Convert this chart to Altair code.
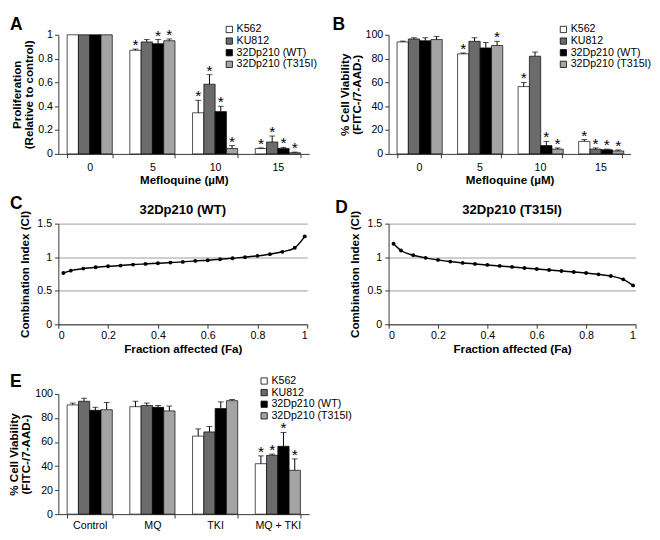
import altair as alt
import pandas as pd

LINES = ["K562", "KU812", "32Dp210 (WT)", "32Dp210 (T315I)"]
COLORS = ["#ffffff", "#6b6b6b", "#000000", "#a4a4a4"]

# ---- Panel A: proliferation relative to control ----
A_DOSES = ["0", "5", "10", "15"]
A_K562 = [1.0, 0.87, 0.345, 0.045]
A_K562_ERR = [0.0, 0.01, 0.105, 0.005]
A_KU812 = [1.0, 0.94, 0.585, 0.10]
A_KU812_ERR = [0.0, 0.02, 0.08, 0.05]
A_WT = [1.0, 0.925, 0.355, 0.045]
A_WT_ERR = [0.0, 0.035, 0.045, 0.01]
A_T315I = [1.0, 0.95, 0.045, 0.01]
A_T315I_ERR = [0.0, 0.015, 0.025, 0.005]
A_STARS = [[0, 1, 1, 1], [0, 0, 1, 1], [0, 1, 1, 1], [0, 1, 1, 1]]

# ---- Panel B: % cell viability ----
B_DOSES = ["0", "5", "10", "15"]
B_K562 = [94, 84, 56.5, 10.5]
B_K562_ERR = [0.7, 0.7, 3.5, 1.5]
B_KU812 = [96.5, 94.5, 82, 4]
B_KU812_ERR = [1, 3, 3.5, 1]
B_WT = [95, 89, 7, 3.5]
B_WT_ERR = [2.5, 4.5, 3.5, 0.5]
B_T315I = [96, 91, 4, 2.5]
B_T315I_ERR = [2.5, 3.5, 1, 0.8]
B_STARS = [[0, 1, 1, 1], [0, 0, 0, 1], [0, 0, 1, 1], [0, 1, 1, 1]]

# ---- Panels C / D: combination index ----
FA = [0.02, 0.05, 0.10, 0.15, 0.20, 0.25, 0.30, 0.35, 0.40, 0.45, 0.50,
      0.55, 0.60, 0.65, 0.70, 0.75, 0.80, 0.85, 0.90, 0.95, 0.99]
CI_WT = [0.765, 0.80, 0.83, 0.85, 0.865, 0.875, 0.89, 0.90, 0.91, 0.92, 0.93,
         0.945, 0.955, 0.97, 0.985, 1.00, 1.02, 1.045, 1.08, 1.14, 1.31]
CI_T315I = [1.20, 1.10, 1.03, 0.99, 0.96, 0.935, 0.915, 0.90, 0.885, 0.87, 0.855,
            0.84, 0.825, 0.81, 0.795, 0.78, 0.765, 0.745, 0.72, 0.67, 0.58]

# ---- Panel E: % cell viability with treatments ----
E_CATS = ["Control", "MQ", "TKI", "MQ + TKI"]
E_K562 = [91, 89.5, 65, 42]
E_K562_ERR = [1.5, 4.5, 6, 6.5]
E_KU812 = [94, 90.5, 68.5, 49]
E_KU812_ERR = [2.5, 2, 4.5, 1]
E_WT = [86.5, 89, 88, 56.5]
E_WT_ERR = [2.5, 1.5, 5.5, 11.5]
E_T315I = [87, 86, 94.5, 36.5]
E_T315I_ERR = [6, 4, 1, 9.5]
E_STARS = [[0, 0, 0, 1], [0, 0, 0, 1], [0, 0, 0, 1], [0, 0, 0, 1]]

FONT = "Liberation Sans"
AX = "#333333"


def bar_df(cats, means, errs, stars):
    rows = []
    for line, m, e, s in zip(LINES, means, errs, stars):
        for c, mv, ev, sv in zip(cats, m, e, s):
            rows.append({"cat": c, "line": line, "val": mv, "err": ev,
                         "top": mv + ev, "star": sv})
    return pd.DataFrame(rows)


def text_layer(txt, lx, ly, size, align="left", baseline="top"):
    return alt.Chart(pd.DataFrame({"t": [txt]})).mark_text(
        fontSize=size, fontWeight="bold", align=align, baseline=baseline,
        font=FONT
    ).encode(text="t:N", x=alt.value(lx), y=alt.value(ly))


def bar_panel(df, cats, ydom, yvals, ytitle, xtitle, w, h, leg_x, leg_y,
              letter, lx, ly, xlabpad=4):
    x = alt.X("cat:N", sort=cats, title=xtitle,
              scale=alt.Scale(paddingInner=0.28, paddingOuter=0.14),
              axis=alt.Axis(labelAngle=0, tickBand="extent", tickSize=4,
                            labelPadding=xlabpad, titlePadding=3,
                            domainColor=AX, tickColor=AX))
    xo = alt.XOffset("line:N", sort=LINES,
                     scale=alt.Scale(paddingInner=0, paddingOuter=0))
    yax = alt.Axis(values=yvals, format="~r", tickSize=4, grid=False,
                   domainColor=AX, tickColor=AX, labelPadding=2,
                   titlePadding=2)
    ysc = alt.Scale(domain=ydom, nice=False)
    base = alt.Chart(df)
    bars = base.mark_bar(stroke="black", strokeWidth=0.7).encode(
        x=x, xOffset=xo,
        y=alt.Y("val:Q", title=ytitle, scale=ysc, axis=yax),
        color=alt.Color("line:N", sort=LINES, title=None,
                        scale=alt.Scale(domain=LINES, range=COLORS),
                        legend=alt.Legend(orient="none", legendX=leg_x,
                                          legendY=leg_y, direction="vertical",
                                          symbolType="square", symbolSize=42,
                                          symbolStrokeColor="black",
                                          symbolStrokeWidth=0.8,
                                          labelFontSize=11, labelOffset=2,
                                          rowPadding=0, labelFont=FONT)),
    )
    errd = base.transform_filter("datum.err > 0")
    rule = errd.mark_rule(color="black", strokeWidth=1).encode(
        x=x, xOffset=xo,
        y=alt.Y("val:Q", title=ytitle, scale=ysc, axis=yax),
        y2="top:Q")
    cap = errd.mark_tick(color="black", size=6, thickness=1).encode(
        x=x, xOffset=xo, y=alt.Y("top:Q", title=ytitle, scale=ysc, axis=yax))
    star = base.transform_filter("datum.star == 1").mark_text(
        text="*", fontSize=16, baseline="alphabetic", dy=1, font=FONT
    ).encode(x=x, xOffset=xo,
             y=alt.Y("top:Q", title=ytitle, scale=ysc, axis=yax))
    return alt.layer(bars, rule, cap, star,
                     text_layer(letter, lx, ly, 18)).properties(width=w, height=h)


def ci_panel(ci, title, w, h, letter, lx, ly):
    df = pd.DataFrame({"fa": FA, "ci": ci})
    x = alt.X("fa:Q", title="Fraction affected (Fa)",
              scale=alt.Scale(domain=[0, 1], nice=False),
              axis=alt.Axis(values=[0, 0.2, 0.4, 0.6, 0.8, 1], format="~r",
                            grid=False, tickSize=4, labelPadding=2,
                            titlePadding=3, domainColor=AX, tickColor=AX))
    y = alt.Y("ci:Q", title="Combination Index (CI)",
              scale=alt.Scale(domain=[0, 1.5], nice=False),
              axis=alt.Axis(values=[0, 0.5, 1, 1.5], format="~r", grid=True,
                            gridColor="#9a9a9a", tickSize=4, labelPadding=3,
                            titlePadding=6, domainColor=AX, tickColor=AX))
    base = alt.Chart(df)
    line = base.mark_line(color="black", strokeWidth=1.5,
                          interpolate="monotone").encode(x=x, y=y)
    pts = base.mark_circle(color="black", size=16, opacity=1).encode(x=x, y=y)
    return alt.layer(line, pts, text_layer(letter, lx, ly, 18),
                     text_layer(title, w / 2, -14, 13.5, "center",
                                "middle")).properties(width=w, height=h)


dfA = bar_df(A_DOSES, [A_K562, A_KU812, A_WT, A_T315I],
             [A_K562_ERR, A_KU812_ERR, A_WT_ERR, A_T315I_ERR], A_STARS)
dfB = bar_df(B_DOSES, [B_K562, B_KU812, B_WT, B_T315I],
             [B_K562_ERR, B_KU812_ERR, B_WT_ERR, B_T315I_ERR], B_STARS)
dfE = bar_df(E_CATS, [E_K562, E_KU812, E_WT, E_T315I],
             [E_K562_ERR, E_KU812_ERR, E_WT_ERR, E_T315I_ERR], E_STARS)

A = bar_panel(dfA, A_DOSES, [0, 1], [0, 0.2, 0.4, 0.6, 0.8, 1],
              ["Proliferation", "(Relative to control)"], "Mefloquine (µM)",
              259, 123, 171, -11, "A", -50, -19)
B = bar_panel(dfB, B_DOSES, [0, 100], [0, 20, 40, 60, 80, 100],
              ["% Cell Viability", "(FITC-/7-AAD-)"], "Mefloquine (µM)",
              250, 123, 175, -11, "B", -58, -19)
C = ci_panel(CI_WT, "32Dp210 (WT)", 257, 104, "C", -50, -29)
D = ci_panel(CI_T315I, "32Dp210 (T315I)", 255, 104, "D", -55, -25)
E = bar_panel(dfE, E_CATS, [0, 100], [0, 20, 40, 60, 80, 100],
              ["% Cell Viability", "(FITC-/7-AAD-)"], "",
              259, 124, 207, -19, "E", -50, -21, xlabpad=2)

chart = alt.concat(A, B, C, D, E, columns=2, bounds="flush",
                   spacing={"row": 72, "column": 82}).resolve_scale(
    color="independent").properties(padding=0).configure(
    font=FONT).configure_view(stroke=None).configure_axis(
    labelFontSize=11, titleFontSize=12, titleFontWeight="bold",
    labelColor="black", titleColor="black", labelFont=FONT, titleFont=FONT,
    titleLineHeight=12.5)

chart.save("out.html", embed_options={"renderer": "svg", "actions": False})
